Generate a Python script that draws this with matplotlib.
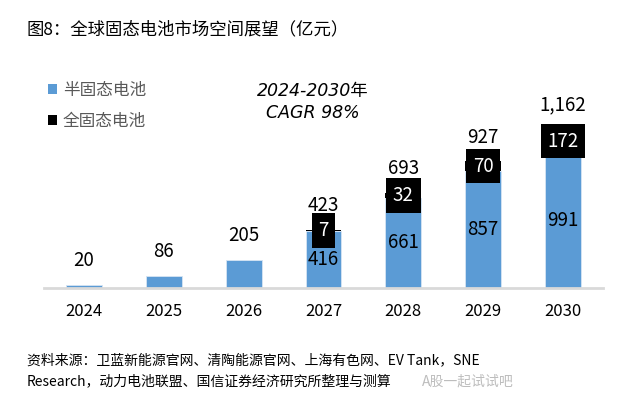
import matplotlib
matplotlib.use('Agg')
import matplotlib.pyplot as plt
from matplotlib.patches import Patch

plt.rcParams['font.family'] = ['Noto Sans CJK SC', 'DejaVu Sans']

# 数据
years = ['2024', '2025', '2026', '2027', '2028', '2029', '2030']
semi = [20, 86, 205, 416, 661, 857, 991]       # 半固态电池
full = [0, 0, 0, 7, 32, 70, 172]               # 全固态电池
totals = [20, 86, 205, 423, 693, 927, 1162]

blue = '#5B9BD5'
W, H = 629, 409

fig = plt.figure(figsize=(W / 100, H / 100), dpi=100)
ax = fig.add_axes([44 / W, (H - 287.5) / H, (603 - 44) / W, (287.5 - 60) / H])

x = list(range(len(years)))
ax.bar(x, semi, width=0.45, color=blue, edgecolor='#d6e4f3', linewidth=0.6)
ax.bar(x, full, width=0.45, bottom=semi, color='black')

ax.set_xlim(-0.5, 6.5)
ax.set_ylim(0, 1673)
ax.set_xticks(x)
ax.set_xticklabels(years, fontsize=12)
ax.set_yticks([])
ax.tick_params(axis='x', length=0, pad=11)
for s in ['left', 'right', 'top']:
    ax.spines[s].set_visible(False)
ax.spines['bottom'].set_color('#d9d9d9')
ax.spines['bottom'].set_linewidth(2)

# 总量标签
for i, t in enumerate(totals):
    ax.annotate('{:,}'.format(t), (i, t), xytext=(0, 17.5), textcoords='offset points',
                ha='center', va='center', fontsize=13.5)

# 分段标签
for i in range(len(years)):
    if full[i] > 0:
        ax.text(i, semi[i] / 2, str(semi[i]), ha='center', va='center', fontsize=13.5)
        ax.text(i, semi[i] + full[i] / 2, str(full[i]), ha='center', va='center',
                fontsize=13.5, color='white',
                bbox=dict(facecolor='black', edgecolor='none', boxstyle='square,pad=0.36'))

# 图例
handles = [Patch(facecolor=blue, label='半固态电池'), Patch(facecolor='black', label='全固态电池')]
ax.legend(handles=handles, loc='upper left', bbox_to_anchor=(48 / W, 1 - 82 / H),
          bbox_transform=fig.transFigure, frameon=False, fontsize=12,
          handlelength=0.55, handleheight=0.55, handletextpad=0.35,
          labelspacing=0.85, borderpad=0, borderaxespad=0, labelcolor='#595959')

fig.text(313 / W, 1 - 90.7 / H, '2024-2030年', ha='center', va='center', fontsize=12.5,
         style='italic', family=['DejaVu Sans', 'Noto Sans CJK SC'])
fig.text(313 / W, 1 - 113 / H, 'CAGR 98%', ha='center', va='center', fontsize=12.5,
         style='italic', family=['DejaVu Sans', 'Noto Sans CJK SC'])

fig.text(27 / W, 1 - 29 / H, '图8：全球固态电池市场空间展望（亿元）', ha='left', va='center', fontsize=12.5)

fig.text(27 / W, 1 - 360 / H, '资料来源：卫蓝新能源官网、清陶能源官网、上海有色网、EV Tank，SNE',
         ha='left', va='center', fontsize=10)
fig.text(27 / W, 1 - 381 / H, 'Research，动力电池联盟、国信证券经济研究所整理与测算',
         ha='left', va='center', fontsize=10)
fig.text(422 / W, 1 - 381.5 / H, 'A股一起试试吧', ha='left', va='center', fontsize=10,
         color='#bdbdbd')

fig.savefig('out.png', dpi=100)
